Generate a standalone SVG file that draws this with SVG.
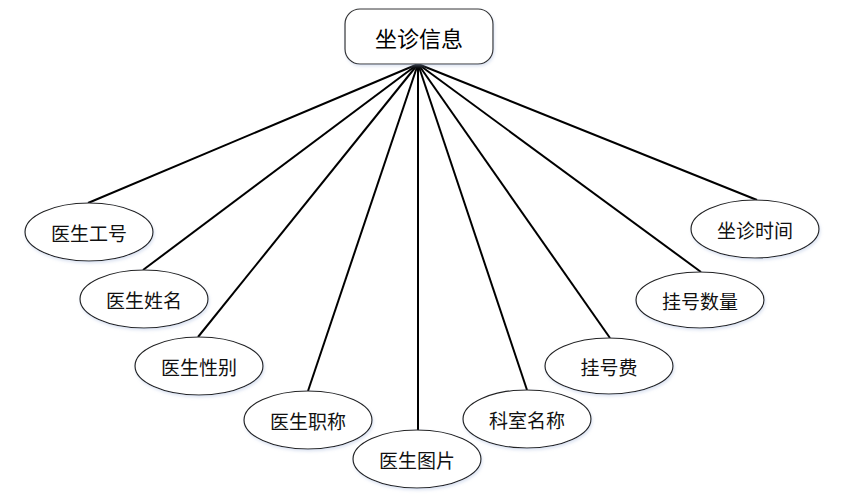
<svg xmlns="http://www.w3.org/2000/svg" width="856" height="502" viewBox="0 0 856 502">
<defs>
<filter id="sh" x="-20%" y="-20%" width="140%" height="150%">
<feDropShadow dx="1" dy="2" stdDeviation="1.5" flood-color="#9fb3d9" flood-opacity="0.35"/>
</filter>
</defs>
<style>
.bg{fill:#ffffff}
.conn line{stroke:#000;stroke-width:2;fill:none}
.box{fill:#fff;stroke:#333;stroke-width:1.2;filter:url(#sh)}
.ell{fill:#fff;stroke:#222;stroke-width:1.2;filter:url(#sh)}
.t{font-family:"Noto Sans CJK SC","Noto Sans",sans-serif;font-size:19px;fill:#111;text-anchor:middle;dominant-baseline:central}
.tt{font-family:"Noto Sans CJK SC","Noto Sans",sans-serif;font-size:22px;fill:#000;text-anchor:middle;dominant-baseline:central}
</style>
<rect class="bg" x="0" y="0" width="856" height="502"/>
<g id="connectors" class="conn">
<line x1="418" y1="64" x2="88" y2="203"/>
<line x1="418" y1="64" x2="143" y2="270"/>
<line x1="418" y1="64" x2="198" y2="337"/>
<line x1="418" y1="64" x2="308" y2="391"/>
<line x1="418" y1="64" x2="418" y2="430"/>
<line x1="418" y1="64" x2="527" y2="390"/>
<line x1="418" y1="64" x2="610" y2="338"/>
<line x1="418" y1="64" x2="701" y2="272"/>
<line x1="418" y1="64" x2="757" y2="200"/>
</g>
<g id="node-main">
<rect class="box" x="345" y="9" width="148" height="55" rx="15" ry="15"/>
<text class="tt" x="419" y="37">坐诊信息</text>
</g>
<g id="node-gonghao">
<ellipse class="ell" cx="89" cy="232" rx="64" ry="29"/>
<text class="t" x="89" y="232">医生工号</text>
</g>
<g id="node-xingming">
<ellipse class="ell" cx="144" cy="299" rx="64" ry="29"/>
<text class="t" x="144" y="299">医生姓名</text>
</g>
<g id="node-xingbie">
<ellipse class="ell" cx="199" cy="366" rx="64" ry="29"/>
<text class="t" x="199" y="366">医生性别</text>
</g>
<g id="node-zhicheng">
<ellipse class="ell" cx="308" cy="420" rx="64" ry="29"/>
<text class="t" x="308" y="420">医生职称</text>
</g>
<g id="node-tupian">
<ellipse class="ell" cx="417" cy="459" rx="64" ry="29"/>
<text class="t" x="417" y="459">医生图片</text>
</g>
<g id="node-keshi">
<ellipse class="ell" cx="527" cy="419" rx="64" ry="29"/>
<text class="t" x="527" y="419">科室名称</text>
</g>
<g id="node-guahaofei">
<ellipse class="ell" cx="609" cy="366" rx="64" ry="28"/>
<text class="t" x="609" y="366">挂号费</text>
</g>
<g id="node-guahaoshuliang">
<ellipse class="ell" cx="700" cy="300" rx="64" ry="28"/>
<text class="t" x="700" y="300">挂号数量</text>
</g>
<g id="node-shijian">
<ellipse class="ell" cx="755" cy="229" rx="64" ry="29"/>
<text class="t" x="755" y="229">坐诊时间</text>
</g>
</svg>
